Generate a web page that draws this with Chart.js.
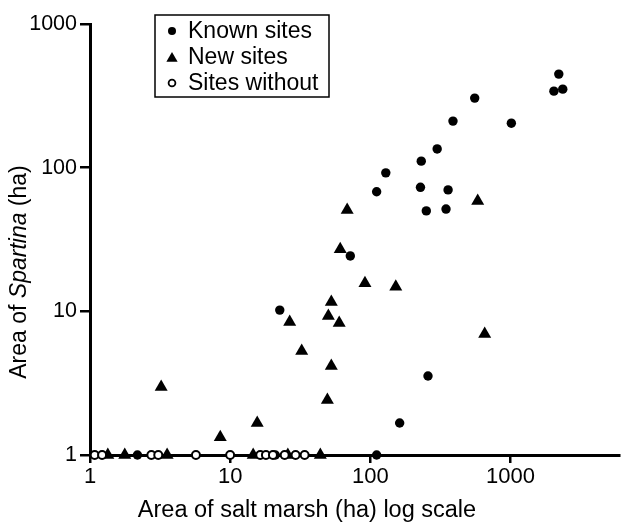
<!DOCTYPE html>
<html>
<head>
<meta charset="utf-8">
<script src="https://cdn.jsdelivr.net/npm/chart.js@4/dist/chart.umd.min.js"></script>
<style>
    body { margin: 0; background: #fff; }
    #wrap { width: 627px; height: 524px; }
</style>
</head>
<body>
<div id="wrap"><canvas id="chart" width="627" height="524"></canvas></div>
<script>
// values (ha)
const knownX = [2213, 2042, 2362, 556, 389, 1015, 300, 231, 129, 111, 228, 359, 251, 347, 72, 22.6, 258, 162, 2.18, 21, 111];
const knownY = [448, 341, 352, 305, 211, 204, 135, 111, 92, 68, 73, 70, 50, 51.5, 24.3, 10.2, 3.55, 1.67, 1, 1, 1];

const newX = [584, 655, 152, 91.6, 68.4, 61, 52.7, 50.2, 60, 26.6, 32.4, 52.7, 49.4, 3.22, 8.5, 15.6, 1.34, 1.77, 3.55, 14.6, 25.8, 44];
const newY = [58.6, 6.95, 14.8, 15.7, 50.7, 27.1, 11.6, 9.27, 8.3, 8.43, 5.3, 4.16, 2.41, 2.97, 1.33, 1.67, 1, 1, 1, 1, 1, 1];

const withoutX = [1.08, 1.22, 2.74, 3.07, 5.7, 10, 16.4, 18, 20.2, 24.5, 29.3, 34];
const withoutY = [1, 1, 1, 1, 1, 1, 1, 1, 1, 1, 1, 1];

const xTicks = [1, 10, 100, 1000];
const yTicks = [1, 10, 100, 1000];

const legendLabels = ['Known sites', 'New sites', 'Sites without'];

const FONT = '"Liberation Sans", Arial, Helvetica, sans-serif';

function pts(xs, ys) {
    return xs.map((x, i) => ({x: x, y: ys[i]}));
}

// titles and boxed legend drawn by hand
const extras = {
    id: 'extras',
    afterDraw(chart) {
        const ctx = chart.ctx;
        ctx.save();
        ctx.fillStyle = '#000';
        ctx.strokeStyle = '#000';

        // x title
        ctx.font = '23.5px ' + FONT;
        ctx.textAlign = 'center';
        ctx.textBaseline = 'middle';
        ctx.fillText('Area of salt marsh (ha) log scale', 307, 511);

        // y title with italic Spartina
        const parts = [
            ['Area of ', '23px ' + FONT],
            ['Spartina', 'italic 23px ' + FONT],
            [' (ha)', '23px ' + FONT]
        ];
        let total = 0;
        parts.forEach(p => { ctx.font = p[1]; total += ctx.measureText(p[0]).width; });
        ctx.translate(20, 272);
        ctx.rotate(-Math.PI / 2);
        ctx.textAlign = 'left';
        let pos = -total / 2;
        parts.forEach(p => {
            ctx.font = p[1];
            ctx.fillText(p[0], pos, 0);
            pos += ctx.measureText(p[0]).width;
        });
        ctx.setTransform(1, 0, 0, 1, 0, 0);

        // legend box
        ctx.lineWidth = 1.5;
        ctx.strokeRect(155, 15, 174, 82);
        const rows = [31, 57, 83];
        ctx.font = '23px ' + FONT;
        ctx.textAlign = 'left';
        legendLabels.forEach((t, i) => ctx.fillText(t, 188, rows[i] + 1));

        // markers
        ctx.beginPath();
        ctx.arc(172, rows[0], 4, 0, Math.PI * 2);
        ctx.fill();

        const r = 6.5;
        ctx.beginPath();
        ctx.moveTo(172, rows[1] + 1.5 - r);
        ctx.lineTo(172 + r * 0.866, rows[1] + 1.5 + r / 2);
        ctx.lineTo(172 - r * 0.866, rows[1] + 1.5 + r / 2);
        ctx.closePath();
        ctx.fill();

        ctx.beginPath();
        ctx.lineWidth = 1.8;
        ctx.arc(172, rows[2], 3.4, 0, Math.PI * 2);
        ctx.fillStyle = '#fff';
        ctx.fill();
        ctx.stroke();

        ctx.restore();
    }
};

new Chart(document.getElementById('chart'), {
    type: 'scatter',
    data: {
        datasets: [
            {
                label: legendLabels[2],
                data: pts(withoutX, withoutY),
                pointStyle: 'circle',
                pointRadius: 4,
                pointBorderWidth: 2,
                borderColor: '#000',
                backgroundColor: '#fff',
                clip: false
            },
            {
                label: legendLabels[1],
                data: pts(newX, newY),
                pointStyle: 'triangle',
                pointRadius: 7.5,
                pointBorderWidth: 0,
                borderColor: '#000',
                backgroundColor: '#000',
                clip: false
            },
            {
                label: legendLabels[0],
                data: pts(knownX, knownY),
                pointStyle: 'circle',
                pointRadius: 4.7,
                pointBorderWidth: 0,
                borderColor: '#000',
                backgroundColor: '#000',
                clip: false
            }
        ]
    },
    options: {
        responsive: false,
        animation: false,
        events: [],
        layout: {
            padding: {top: 24, right: 2, left: 0, bottom: 0}
        },
        plugins: {
            legend: {display: false},
            tooltip: {enabled: false}
        },
        scales: {
            x: {
                type: 'logarithmic',
                min: 1,
                max: 6000,
                afterBuildTicks: s => { s.ticks = xTicks.map(v => ({value: v})); },
                afterFit: s => { s.height = 69; },
                ticks: {
                    autoSkip: false,
                    maxRotation: 0,
                    padding: 1,
                    color: '#000',
                    font: {family: FONT, size: 22},
                    callback: v => String(v)
                },
                grid: {
                    drawOnChartArea: false,
                    drawTicks: true,
                    tickLength: 8,
                    color: '#000',
                    lineWidth: 2.5
                },
                border: {display: true, color: '#000', width: 3}
            },
            y: {
                type: 'logarithmic',
                min: 1,
                max: 1000,
                afterBuildTicks: s => { s.ticks = yTicks.map(v => ({value: v})); },
                afterFit: s => { s.width = 90; },
                ticks: {
                    autoSkip: false,
                    padding: 3,
                    color: '#000',
                    font: {family: FONT, size: 21.5},
                    callback: v => String(v)
                },
                grid: {
                    drawOnChartArea: false,
                    drawTicks: true,
                    tickLength: 10,
                    color: '#000',
                    lineWidth: 2.5
                },
                border: {display: true, color: '#000', width: 3}
            }
        }
    },
    plugins: [extras]
});
</script>
</body>
</html>
